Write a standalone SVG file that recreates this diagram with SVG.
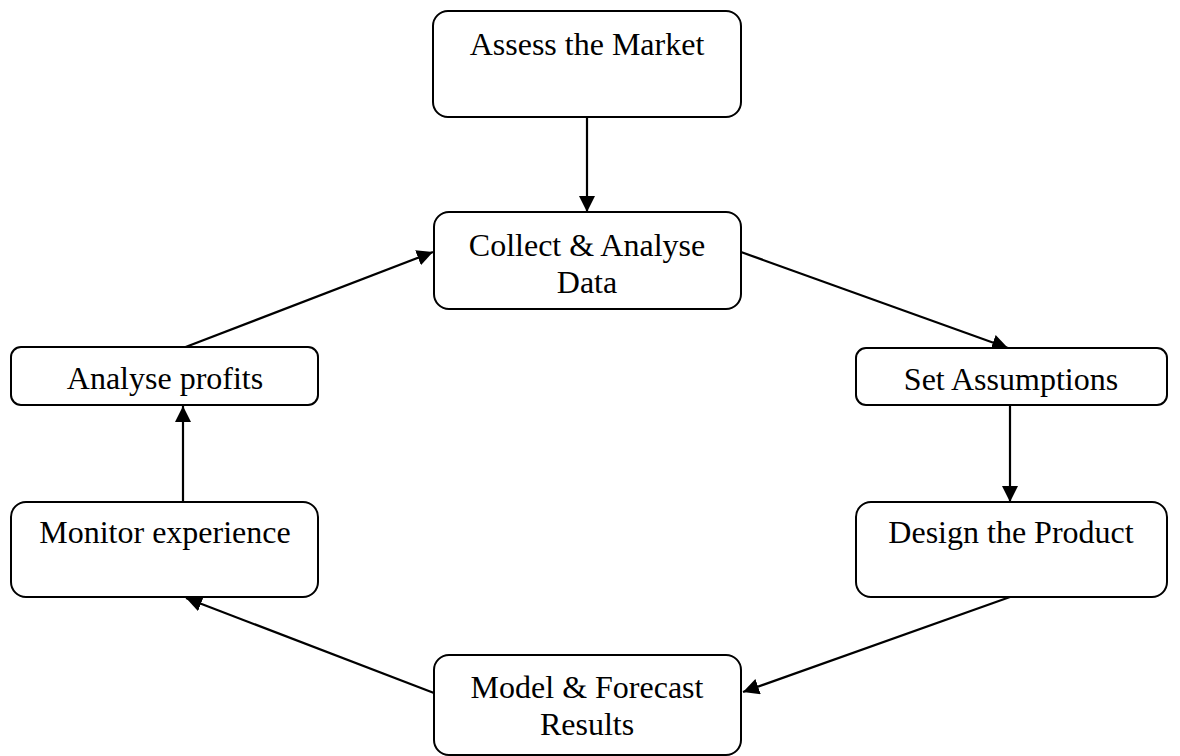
<svg xmlns="http://www.w3.org/2000/svg" width="1180" height="756" viewBox="0 0 1180 756">
<defs>
<style>
.box{fill:#fff;stroke:#000;stroke-width:2}
.t{font-family:"Liberation Serif","Times New Roman",serif;font-size:32px;fill:#000;text-anchor:middle}
.c{stroke:#000;stroke-width:2.2;fill:none;marker-end:url(#ah)}
</style>
<marker id="ah" markerWidth="16" markerHeight="16" viewBox="0 0 14 14" refX="14" refY="7" orient="auto" markerUnits="userSpaceOnUse">
<path d="M0,0 L14,7 L0,14 Z" fill="#000"/>
</marker>
</defs>
<rect width="1180" height="756" fill="#fff"/>
<g id="connectors">
<line class="c" x1="587" y1="117" x2="587" y2="212"/>
<line class="c" x1="741" y1="252" x2="1008" y2="348"/>
<line class="c" x1="1010" y1="405" x2="1010" y2="502"/>
<line class="c" x1="1010" y1="597" x2="743" y2="692"/>
<line class="c" x1="434" y1="693" x2="186" y2="598"/>
<line class="c" x1="183" y1="502" x2="183" y2="406"/>
<line class="c" x1="183" y1="348" x2="433" y2="252"/>
</g>
<g id="assess">
<rect class="box" x="433" y="11" width="308" height="106" rx="15"/>
<text class="t" x="587" y="55">Assess the Market</text>
</g>
<g id="collect">
<rect class="box" x="434" y="212" width="307" height="97" rx="15"/>
<text class="t" x="587" y="256">Collect &amp; Analyse</text>
<text class="t" x="587" y="293">Data</text>
</g>
<g id="profits">
<rect class="box" x="11" y="347" width="307" height="58" rx="10"/>
<text class="t" x="165" y="389">Analyse profits</text>
</g>
<g id="assumptions">
<rect class="box" x="856" y="348" width="311" height="57" rx="10"/>
<text class="t" x="1011" y="390">Set Assumptions</text>
</g>
<g id="monitor">
<rect class="box" x="11" y="502" width="307" height="95" rx="15"/>
<text class="t" x="165" y="543">Monitor experience</text>
</g>
<g id="design">
<rect class="box" x="856" y="502" width="311" height="95" rx="15"/>
<text class="t" x="1011" y="543">Design the Product</text>
</g>
<g id="model">
<rect class="box" x="434" y="655" width="307" height="100" rx="15"/>
<text class="t" x="587" y="698">Model &amp; Forecast</text>
<text class="t" x="587" y="735">Results</text>
</g>
</svg>
